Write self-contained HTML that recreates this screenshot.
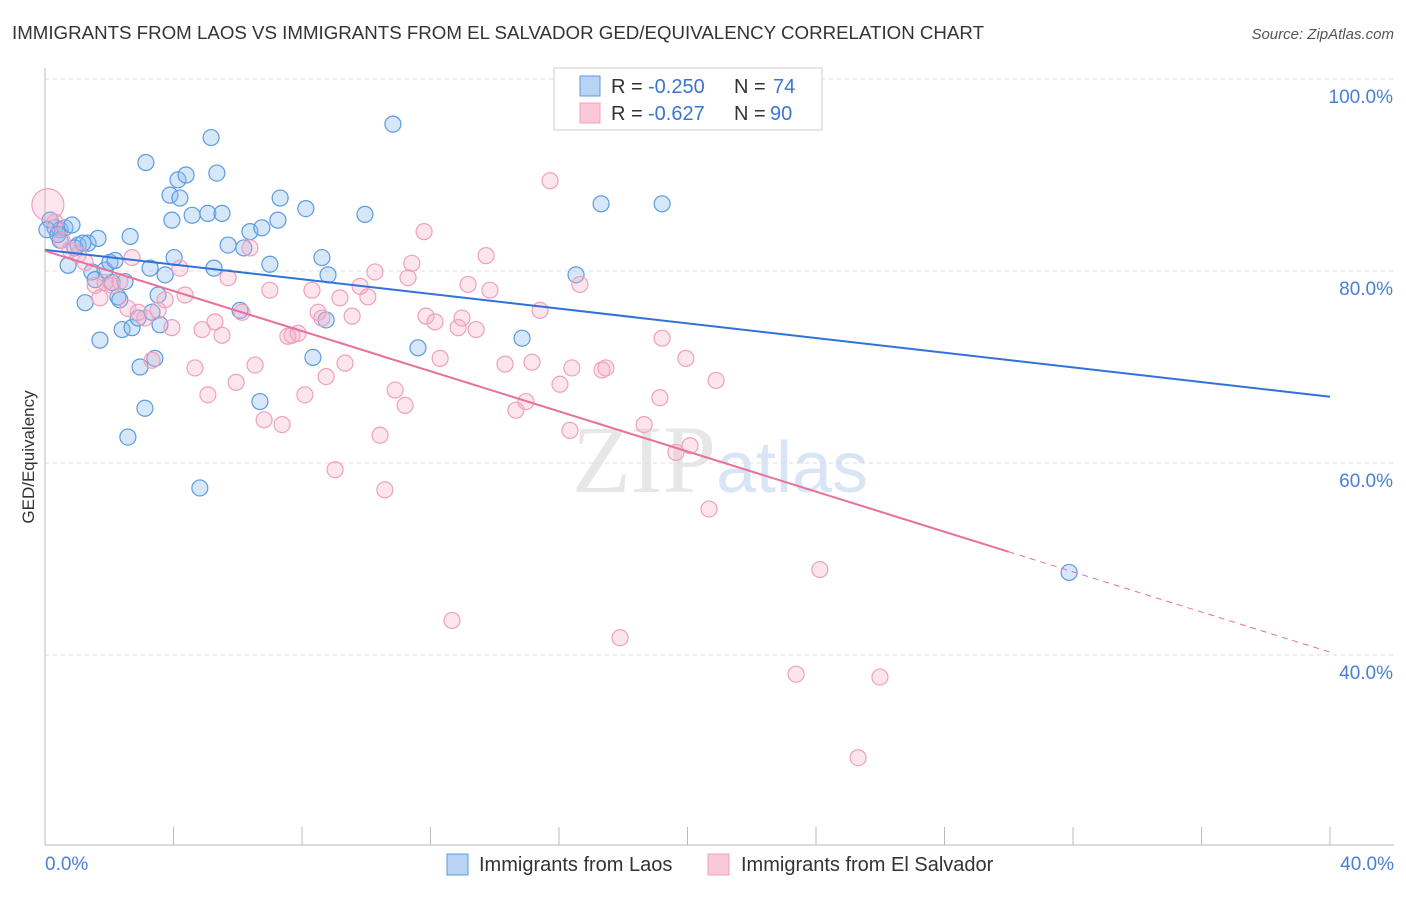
<!DOCTYPE html>
<html><head><meta charset="utf-8"><style>
body{margin:0;background:#fff;font-family:"Liberation Sans",sans-serif;}
</style></head><body>
<svg id="chart" width="1406" height="892" xmlns="http://www.w3.org/2000/svg" font-family="Liberation Sans, sans-serif">
<text x="12" y="39" font-size="18" fill="#333" textLength="972" lengthAdjust="spacingAndGlyphs">IMMIGRANTS FROM LAOS VS IMMIGRANTS FROM EL SALVADOR GED/EQUIVALENCY CORRELATION CHART</text>
<text x="1394" y="39" font-size="15" fill="#555" text-anchor="end" font-style="italic">Source: ZipAtlas.com</text>
<text transform="translate(34,457) rotate(-90)" font-size="17" fill="#333" text-anchor="middle">GED/Equivalency</text>
<text x="720" y="492" font-size="96" fill="#ddd" text-anchor="middle" font-family="Liberation Serif, serif" opacity="0.7">ZIP<tspan fill="#c9daf0" font-family="Liberation Sans, sans-serif" font-size="72">atlas</tspan></text>
<g id="grid"></g><g id="axes"></g><g id="pts"></g><g id="trend"></g>
<g>
<rect x="554" y="68" width="268" height="62" fill="#fff" stroke="#ccc"/>
<rect x="580" y="76" width="20" height="20" fill="#b9d3f5" stroke="#5b9be0"/>
<rect x="580" y="103" width="20" height="20" fill="#fac8d8" stroke="#f0a0bc"/>
<text x="611" y="93" font-size="20" fill="#333">R =</text>
<text x="648" y="93" font-size="20" fill="#3a75d0">-0.250</text>
<text x="734" y="93" font-size="20" fill="#333">N =</text>
<text x="773" y="93" font-size="20" fill="#3a75d0">74</text>
<text x="611" y="120" font-size="20" fill="#333">R =</text>
<text x="648" y="120" font-size="20" fill="#3a75d0">-0.627</text>
<text x="734" y="120" font-size="20" fill="#333">N =</text>
<text x="770" y="120" font-size="20" fill="#3a75d0">90</text>
</g>
<g>
<rect x="447" y="854" width="21" height="21" fill="#b9d3f5" stroke="#5b9be0"/>
<text x="479" y="871" font-size="20" fill="#333">Immigrants from Laos</text>
<rect x="708" y="854" width="21" height="21" fill="#fac8d8" stroke="#f0a0bc"/>
<text x="741" y="871" font-size="20" fill="#333">Immigrants from El Salvador</text>
</g>
</svg>
<script>
const yTicks=[100,80,60,40];
const yTickLabels=["100.0%","80.0%","60.0%","40.0%"];
const xTickVals=[0,4,8,12,16,20,24,28,32,36,40];
const xEndLabels=["0.0%","40.0%"];
const laosX=[0.16,0.31,0.47,0.62,0.84,0.72,1.03,1.25,1.34,1.46,1.65,1.71,1.87,2.02,2.09,2.27,2.40,2.49,2.58,2.65,2.71,2.90,2.96,3.11,3.14,3.27,3.33,3.42,3.52,3.58,3.74,3.89,3.95,4.02,4.14,4.20,4.39,4.58,4.82,5.07,5.17,5.26,5.35,5.51,5.70,6.07,6.19,6.38,6.69,6.75,7.00,7.25,7.32,8.12,8.34,8.62,8.75,8.81,9.96,10.83,11.61,14.85,16.53,17.31,19.21,31.88,0.47,0.93,1.56,2.18,0.06,2.33,0.40,1.18];
const laosY=[85.3,84.5,84.3,84.5,84.8,80.6,82.7,76.7,82.9,79.9,83.4,72.8,80.1,80.9,78.8,77.3,73.9,78.9,62.7,83.6,74.1,75.1,70.0,65.7,91.3,80.3,75.7,70.9,77.5,74.4,79.6,87.9,85.3,81.4,89.5,87.6,90.0,85.8,57.4,86.0,93.9,80.3,90.2,86.0,82.7,75.9,82.4,84.1,66.4,84.5,80.7,85.3,87.6,86.5,71.0,81.4,74.9,79.6,85.9,95.3,72.0,73.0,79.6,87.0,87.0,48.6,83.2,82.4,79.1,81.1,84.3,77.0,83.8,82.9];
const salvX=[0.09,0.31,0.53,0.78,1.03,1.25,1.56,1.71,1.87,2.09,2.33,2.58,2.71,2.90,3.11,3.33,3.52,3.74,3.95,4.20,4.36,4.67,4.89,5.07,5.29,5.51,5.70,5.95,6.13,6.38,6.54,6.82,7.00,7.38,7.56,7.69,7.88,8.09,8.31,8.50,8.62,8.75,9.03,9.18,9.34,9.56,9.81,10.05,10.27,10.43,10.58,10.90,11.21,11.30,11.42,11.80,11.86,12.14,12.30,12.67,12.86,12.98,13.17,13.42,13.73,13.85,14.32,14.66,14.97,15.16,15.41,15.72,16.03,16.34,16.40,16.65,17.34,17.46,17.90,18.65,19.14,19.21,19.64,19.95,20.08,20.67,20.89,23.38,24.12,25.31,25.99];
const salvY=[86.9,85.1,83.2,82.2,81.7,80.9,78.5,77.2,78.8,78.5,78.9,76.1,81.4,75.7,75.1,70.7,75.9,77.0,74.1,80.3,77.5,69.9,73.9,67.1,74.7,73.3,79.3,68.4,75.7,82.4,70.2,64.5,78.0,64.0,73.2,73.3,73.5,67.1,78.0,75.7,75.1,69.0,59.3,77.2,70.4,75.3,78.4,77.3,79.9,62.9,57.2,67.6,66.0,79.3,80.8,84.1,75.3,74.7,70.9,43.6,74.1,75.1,78.6,73.9,81.6,78.0,70.3,65.5,66.4,70.5,75.9,89.4,68.2,63.4,69.9,78.6,69.7,69.9,41.8,64.0,66.8,73.0,61.1,70.9,61.8,55.2,68.6,38.0,48.9,29.3,37.7];
const laosTrend=[82.2,66.9];
const salvTrend=[82.1,40.3];
const salvSolidEnd=30.0;
const X=v=>45+v*32.125, Y=v=>79+(100-v)*9.6;
const NS="http://www.w3.org/2000/svg";
function mk(p,tag,a){const e=document.createElementNS(NS,tag);for(const k in a)e.setAttribute(k,a[k]);p.appendChild(e);return e;}
const grid=document.getElementById('grid'),axes=document.getElementById('axes'),pts=document.getElementById('pts'),tr=document.getElementById('trend');
yTicks.forEach((t,i)=>{const l=mk(grid,'line',{x1:45,x2:1394,y1:Y(t),y2:Y(t),stroke:'#ddd','stroke-dasharray':'4,4'});


const tx=mk(grid,'text',{x:1393,y:Y(t)+24,'font-size':19,fill:'#4a7fd4','text-anchor':'end'});tx.textContent=yTickLabels[i];

});
const ax=mk(axes,'line',{x1:45,x2:1394,y1:845,y2:845,stroke:'#bbb'});


const ay=mk(axes,'line',{x1:45,x2:45,y1:68,y2:845,stroke:'#bbb'});


xTickVals.forEach(t=>{const l=mk(axes,'line',{x1:X(t),x2:X(t),y1:827,y2:845,stroke:'#bbb'});

});
[[0,'start',45],[40,'end',1394]].forEach((d,i)=>{const tx=mk(axes,'text',{x:d[2],y:870,'font-size':19,fill:'#4a7fd4','text-anchor':d[1]});tx.textContent=xEndLabels[i];

});
laosX.forEach((v,i)=>{const c=mk(pts,'circle',{cx:X(v),cy:Y(laosY[i]),r:8,fill:'rgba(140,185,240,0.35)',stroke:'#5b9be0','stroke-width':1.2});

});
salvX.forEach((v,i)=>{const c=mk(pts,'circle',{cx:X(v),cy:Y(salvY[i]),r:i==0?16:8,fill:'rgba(245,170,195,0.3)',stroke:'#f0a0bc','stroke-width':1.2});

});
const bl=mk(tr,'line',{x1:X(0),y1:Y(laosTrend[0]),x2:X(40),y2:Y(laosTrend[1]),stroke:'#2f72d8','stroke-width':2});


const sAt=x=>salvTrend[0]+(salvTrend[1]-salvTrend[0])*x/40;
const pl=mk(tr,'line',{x1:X(0),y1:Y(sAt(0)),x2:X(salvSolidEnd),y2:Y(sAt(salvSolidEnd)),stroke:'#e8709a','stroke-width':2});


const pd=mk(tr,'line',{x1:X(salvSolidEnd),y1:Y(sAt(salvSolidEnd)),x2:X(40),y2:Y(sAt(40)),stroke:'#e8709a','stroke-width':1,'stroke-dasharray':'6,5'});


</script>
</body></html>
